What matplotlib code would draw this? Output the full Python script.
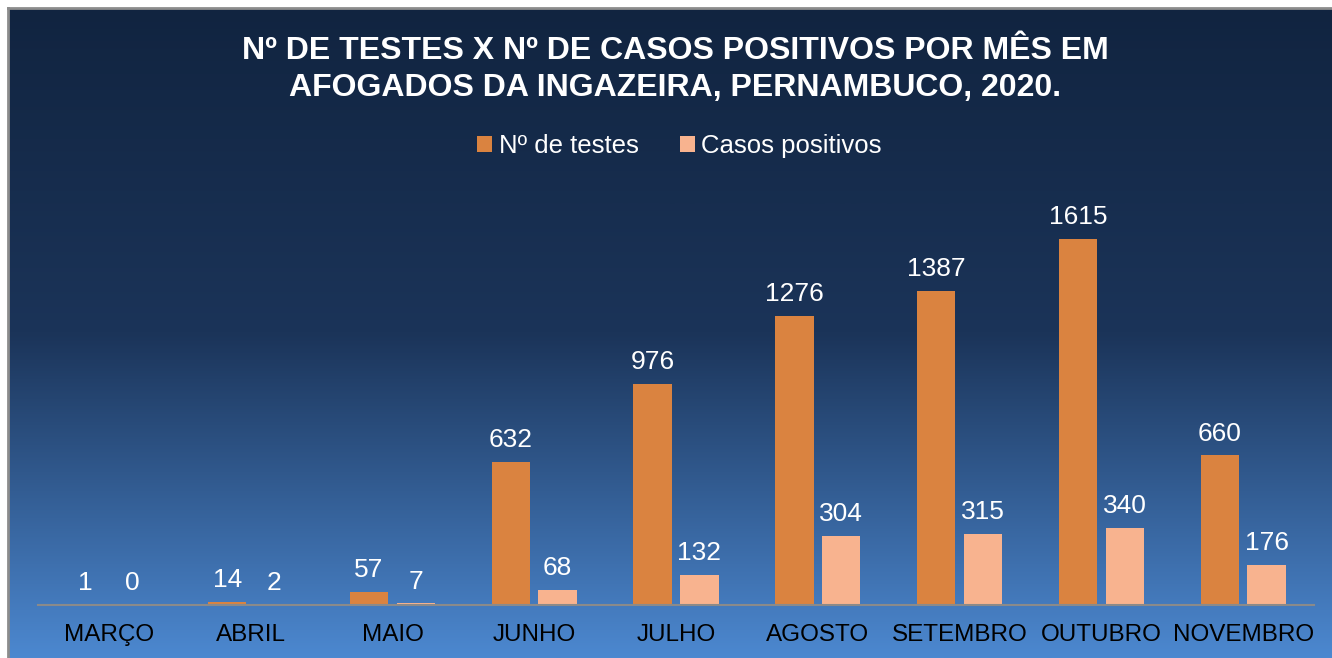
import numpy as np
import matplotlib
matplotlib.use("Agg")
import matplotlib.pyplot as plt
from matplotlib.colors import LinearSegmentedColormap

plt.rcParams['font.family'] = ['Liberation Sans', 'DejaVu Sans']

meses = ["MARÇO", "ABRIL", "MAIO", "JUNHO", "JULHO", "AGOSTO", "SETEMBRO", "OUTUBRO", "NOVEMBRO"]
testes = [1, 14, 57, 632, 976, 1276, 1387, 1615, 660]
positivos = [0, 2, 7, 68, 132, 304, 315, 340, 176]

cor_testes = "#DA8340"
cor_positivos = "#F8B38F"

fig = plt.figure(figsize=(13.32, 6.58), dpi=100)
fig.patch.set_facecolor("white")

# fundo em degradê
bg = fig.add_axes([8/1332, 0, 1 - 8/1332, 1 - 8/658])
cmap = LinearSegmentedColormap.from_list("bg", ["#112440", "#1b3459", "#4c88d0"])
grad = np.linspace(0, 1, 256).reshape(-1, 1)
bg.imshow(grad, aspect="auto", cmap=cmap, extent=[0, 1, 0, 1])
bg.set_xticks([]), bg.set_yticks([])
for s in ["right", "bottom"]:
    bg.spines[s].set_visible(False)
for s in ["top", "left"]:
    bg.spines[s].set_color("#8c8c8c")
    bg.spines[s].set_linewidth(2)

ax = fig.add_axes([38/1332, 53/658, 1276/1332, 408/658])
ax.patch.set_alpha(0)
x = np.arange(len(meses))
w = 0.27
b1 = ax.bar(x - 0.165, testes, w, color=cor_testes, label="Nº de testes")
b2 = ax.bar(x + 0.165, positivos, w, color=cor_positivos, label="Casos positivos")
ax.set_xlim(-0.5, len(meses) - 0.5)
ax.set_ylim(0, 1800)
ax.set_yticks([])
for s in ["top", "right", "left"]:
    ax.spines[s].set_visible(False)
ax.spines["bottom"].set_color("#8a8a8a")
ax.spines["bottom"].set_linewidth(1.5)
ax.set_xticks(x)
ax.set_xticklabels(meses, fontsize=17.5, color="black")
ax.tick_params(axis="x", length=0, pad=14)

for bars in (b1, b2):
    for r in bars:
        ax.annotate(str(int(r.get_height())), (r.get_x() + r.get_width() / 2, r.get_height()),
                    xytext=(0, 7), textcoords="offset points", ha="center", va="bottom",
                    fontsize=19, color="white")

fig.text(0.507, 0.894, "Nº DE TESTES X Nº DE CASOS POSITIVOS POR MÊS EM\nAFOGADOS DA INGAZEIRA, PERNAMBUCO, 2020.",
         ha="center", va="center", fontsize=23, fontweight="bold", color="white", linespacing=1.3)

leg = fig.legend(loc="center", bbox_to_anchor=(0.51, 0.778), ncol=2, frameon=False,
                 fontsize=18.5, labelcolor="white", handlelength=0.6, handleheight=0.6,
                 handletextpad=0.25, columnspacing=1.6)

fig.savefig("out.png", dpi=100)
